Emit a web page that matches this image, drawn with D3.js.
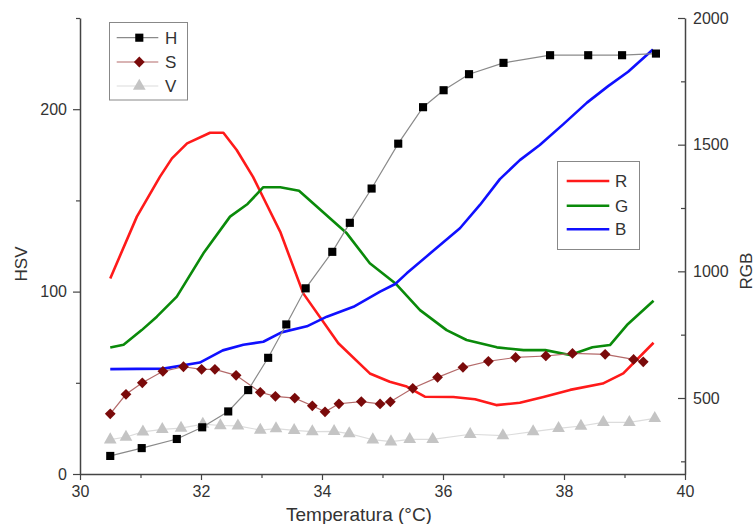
<!DOCTYPE html>
<html>
<head>
<meta charset="utf-8">
<script src="https://cdn.jsdelivr.net/npm/d3@7"></script>
<style>
  html, body { margin: 0; padding: 0; background: #fff; }
  svg { display: block; font-family: "Liberation Sans", Arial, sans-serif; }
  .axis path, .axis line { stroke: #444; }
  .axis text { fill: #333; font-size: 16px; }
</style>
</head>
<body>
<div id="chart"></div>
<script>
// HSV series (left axis)
const H_T = [30.5, 31.02, 31.6, 32.02, 32.45, 32.78, 33.11, 33.41, 33.73, 34.17, 34.46, 34.82, 35.26, 35.67, 36.01, 36.43, 37.0, 37.77, 38.4, 38.96, 39.52];
const H_V = [9.9, 14.2, 19.2, 25.6, 34.3, 46.0, 63.7, 82.0, 101.8, 121.8, 137.7, 156.5, 181.1, 201.1, 210.4, 219.2, 225.4, 229.6, 229.6, 229.6, 230.5];

const S_T = [30.5, 30.76, 31.03, 31.37, 31.71, 32.01, 32.23, 32.58, 32.98, 33.23, 33.55, 33.84, 34.05, 34.28, 34.65, 34.96, 35.13, 35.5, 35.91, 36.33, 36.75, 37.2, 37.7, 38.14, 38.68, 39.15, 39.31];
const S_V = [33.0, 43.7, 50.0, 56.3, 58.8, 57.4, 57.4, 54.1, 44.8, 42.6, 41.6, 37.4, 34.1, 38.5, 39.7, 38.4, 39.6, 47.0, 53.0, 58.5, 61.8, 63.9, 64.7, 66.1, 65.6, 62.8, 61.5];

const V_T = [30.5, 30.76, 31.04, 31.36, 31.67, 32.03, 32.32, 32.61, 32.98, 33.24, 33.54, 33.84, 34.2, 34.45, 34.84, 35.14, 35.45, 35.83, 36.45, 36.99, 37.49, 37.91, 38.28, 38.65, 39.08, 39.5];
const V_V = [18.8, 20.3, 23.1, 24.5, 25.2, 27.3, 26.6, 26.4, 24.1, 24.9, 23.9, 23.2, 23.4, 22.1, 18.8, 17.7, 19.0, 19.0, 21.8, 21.0, 23.2, 25.0, 26.3, 28.3, 28.3, 30.5];

// RGB series (right axis)
const R_T = [30.5, 30.94, 31.32, 31.52, 31.77, 32.15, 32.37, 32.59, 32.86, 33.09, 33.31, 33.69, 34.27, 34.79, 35.12, 35.4, 35.7, 36.17, 36.53, 36.88, 37.27, 37.66, 38.1, 38.64, 38.98, 39.48];
const R_V = [972, 1216, 1373, 1446, 1505, 1547, 1547, 1479, 1373, 1262, 1156, 913, 716, 597, 564, 545, 505, 504, 495, 472, 481, 504, 532, 557, 597, 718];

const G_T = [30.5, 30.72, 31.02, 31.27, 31.6, 32.04, 32.48, 32.77, 33.03, 33.31, 33.62, 34.41, 34.79, 35.21, 35.62, 36.06, 36.39, 36.89, 37.33, 37.69, 38.1, 38.47, 38.76, 39.04, 39.48];
const G_V = [699, 710, 768, 821, 900, 1071, 1216, 1266, 1332, 1332, 1318, 1150, 1032, 953, 847, 768, 729, 700, 689, 689, 670, 700, 709, 788, 884];

const B_T = [30.5, 31.38, 31.98, 32.36, 32.7, 33.03, 33.33, 33.75, 34.08, 34.52, 34.96, 35.21, 35.4, 35.79, 36.28, 36.61, 36.94, 37.27, 37.6, 37.99, 38.38, 38.73, 39.06, 39.47];
const B_V = [614, 616, 640, 688, 710, 722, 759, 783, 821, 860, 920, 950, 992, 1071, 1170, 1262, 1364, 1439, 1499, 1581, 1666, 1731, 1788, 1876];

const X_MAJOR = [30, 32, 34, 36, 38, 40];
const X_MINOR = [31, 33, 35, 37, 39];
const L_MAJOR = [0, 100, 200];
const L_MINOR = [50, 150, 250];
const R_MAJOR = [500, 1000, 1500, 2000];
const R_MINOR = [250, 750, 1250, 1750];

const W = 755, H = 524;
const m = { left: 80, right: 70, top: 18, bottom: 50 };

const svg = d3.select("#chart").append("svg").attr("width", W).attr("height", H);

const x = d3.scaleLinear().domain([30, 40]).range([m.left, W - m.right]);
const yL = d3.scaleLinear().domain([0, 250]).range([H - m.bottom, m.top]);
const yR = d3.scaleLinear().domain([200, 2000]).range([H - m.bottom, m.top]);

const zip = (ts, vs) => ts.map((t, i) => [t, vs[i]]);

// RGB lines
const lineR = d3.line().x((d) => x(d[0])).y((d) => yR(d[1]));
[[R_T, R_V, "#ff1a1a"], [G_T, G_V, "#0a8a0a"], [B_T, B_V, "#1010ff"]].forEach(([t, v, c]) => {
  svg.append("path").datum(zip(t, v)).attr("d", lineR)
    .attr("fill", "none").attr("stroke", c).attr("stroke-width", 2.6).attr("stroke-linejoin", "round");
});

// HSV lines + markers
const lineL = d3.line().x((d) => x(d[0])).y((d) => yL(d[1]));
const series = [
  { t: V_T, v: V_V, line: "#dcdcdc", fill: "#c4c4c4", sym: d3.symbolTriangle, size: 70, rot: 0 },
  { t: S_T, v: S_V, line: "#b46a6a", fill: "#7a0a0a", sym: d3.symbolSquare, size: 58, rot: 45 },
  { t: H_T, v: H_V, line: "#8a8a8a", fill: "#000", sym: d3.symbolSquare, size: 66, rot: 0 },
];
series.forEach((s) => {
  const data = zip(s.t, s.v);
  svg.append("path").datum(data).attr("d", lineL)
    .attr("fill", "none").attr("stroke", s.line).attr("stroke-width", 1.2);
  svg.append("g").selectAll("path").data(data).join("path")
    .attr("d", d3.symbol(s.sym, s.size))
    .attr("transform", (d) => `translate(${x(d[0])},${yL(d[1])}) rotate(${s.rot})`)
    .attr("fill", s.fill);
});

// axes
const gx = svg.append("g").attr("class", "axis").attr("transform", `translate(0,${H - m.bottom})`);
gx.call(d3.axisBottom(x).tickValues(X_MAJOR).tickSize(6).tickPadding(6).tickSizeOuter(0));
gx.append("g").call(d3.axisBottom(x).tickValues(X_MINOR).tickSize(4).tickFormat("").tickSizeOuter(0))
  .select(".domain").remove();

const gl = svg.append("g").attr("class", "axis").attr("transform", `translate(${m.left},0)`);
gl.call(d3.axisLeft(yL).tickValues(L_MAJOR).tickSize(7).tickPadding(6).tickSizeOuter(0));
gl.append("g").call(d3.axisLeft(yL).tickValues(L_MINOR).tickSize(4).tickFormat("").tickSizeOuter(0))
  .select(".domain").remove();

const gr = svg.append("g").attr("class", "axis").attr("transform", `translate(${W - m.right},0)`);
gr.call(d3.axisRight(yR).tickValues(R_MAJOR).tickFormat(d3.format("d")).tickSize(-7).tickPadding(8).tickSizeOuter(0));
gr.append("g").call(d3.axisRight(yR).tickValues(R_MINOR).tickSize(-4).tickFormat("").tickSizeOuter(0))
  .select(".domain").remove();
svg.selectAll(".axis path.domain").attr("stroke-width", 1.5);
svg.selectAll(".axis line").attr("stroke-width", 1.2);

// titles
svg.append("text").attr("x", 359).attr("y", 521).attr("text-anchor", "middle")
  .attr("font-size", 19).attr("fill", "#333").text("Temperatura (°C)");
svg.append("text").attr("transform", "translate(27,264) rotate(-90)").attr("text-anchor", "middle")
  .attr("font-size", 17).attr("fill", "#333").text("HSV");
svg.append("text").attr("transform", "translate(752,271) rotate(-90)").attr("text-anchor", "middle")
  .attr("font-size", 17).attr("fill", "#333").text("RGB");

// legend HSV
const lg1 = svg.append("g");
lg1.append("rect").attr("x", 109.5).attr("y", 22.5).attr("width", 78).attr("height", 77.5)
  .attr("fill", "#fff").attr("stroke", "#888").attr("stroke-width", 1);
[["H", 37.7], ["S", 62], ["V", 86]].forEach(([lab, yy], i) => {
  const s = series[2 - i];
  lg1.append("line").attr("x1", 116.7).attr("x2", 158.3).attr("y1", yy).attr("y2", yy)
    .attr("stroke", s.line).attr("stroke-width", 1.2);
  lg1.append("path").attr("d", d3.symbol(s.sym, s.size))
    .attr("transform", `translate(139.3,${yy}) rotate(${s.rot})`).attr("fill", s.fill);
  lg1.append("text").attr("x", 165).attr("y", yy + 6).attr("font-size", 17).attr("fill", "#333").text(lab);
});

// legend RGB
const lg2 = svg.append("g");
lg2.append("rect").attr("x", 557.5).attr("y", 161.5).attr("width", 82).attr("height", 88)
  .attr("fill", "#fff").attr("stroke", "#888").attr("stroke-width", 1);
[["R", 181, "#ff1a1a"], ["G", 205.7, "#0a8a0a"], ["B", 229.3, "#1010ff"]].forEach(([lab, yy, c]) => {
  lg2.append("line").attr("x1", 566.7).attr("x2", 609.3).attr("y1", yy).attr("y2", yy)
    .attr("stroke", c).attr("stroke-width", 2.6);
  lg2.append("text").attr("x", 615).attr("y", yy + 6).attr("font-size", 17).attr("fill", "#333").text(lab);
});
</script>
</body>
</html>
